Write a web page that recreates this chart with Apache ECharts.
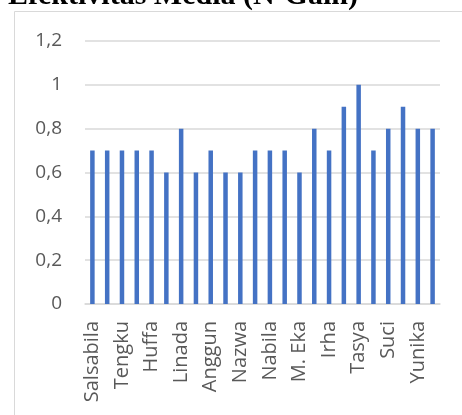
<!DOCTYPE html>
<html>
<head>
<meta charset="utf-8">
<script src="https://cdn.jsdelivr.net/npm/echarts@6/dist/echarts.min.js"></script>
<style>
  html, body { margin: 0; padding: 0; background: #fff; }
  #chart { width: 462px; height: 415px; }
</style>
</head>
<body>
<div id="chart"></div>
<script>
// Student names (only every second one is printed on the axis)
const categories = [
  'Salsabila', '', 'Tengku', '', 'Huffa', '', 'Linada', '',
  'Anggun', '', 'Nazwa', '', 'Nabila', '', 'M. Eka', '',
  'Irha', '', 'Tasya', '', 'Suci', '', 'Yunika', ''
];
// N-Gain score per student
const nGain = [
  0.7, 0.7, 0.7, 0.7, 0.7, 0.6, 0.8, 0.6,
  0.7, 0.6, 0.6, 0.7, 0.7, 0.7, 0.6, 0.8,
  0.7, 0.9, 1.0, 0.7, 0.8, 0.9, 0.8, 0.8
];
const titleText = 'Efektivitas Media (N-Gain)';

const chart = echarts.init(document.getElementById('chart'));
chart.setOption({
  animation: false,
  backgroundColor: '#ffffff',
  graphic: [
    {
      type: 'rect',
      shape: { x: 14.5, y: 11.5, width: 470, height: 420 },
      style: { fill: 'none', stroke: '#d9d9d9', lineWidth: 1 },
      silent: true
    },
    {
      type: 'text',
      x: 8, y: 11,
      style: {
        text: titleText,
        font: 'bold 30px "Liberation Serif", "DejaVu Serif", serif',
        fill: '#000000',
        verticalAlign: 'bottom'
      },
      silent: true
    }
  ],
  grid: { left: 85, right: 22, top: 41, bottom: 111, containLabel: false },
  xAxis: {
    type: 'category',
    data: categories,
    axisTick: { show: false },
    axisLine: { lineStyle: { color: '#d9d9d9', width: 1.5 } },
    axisLabel: {
      interval: 0,
      rotate: 90,
      margin: 17,
      color: '#595959',
      fontFamily: '"Open Sans", sans-serif',
      fontSize: 20
    }
  },
  yAxis: {
    type: 'value',
    min: 0, max: 1.2, interval: 0.2,
    axisLine: { show: false },
    axisTick: { show: false },
    splitLine: { lineStyle: { color: '#d9d9d9', width: 1.5 } },
    axisLabel: {
      margin: 23,
      color: '#595959',
      fontFamily: '"Open Sans", sans-serif',
      fontSize: 19,
      formatter: v => String(Math.round(v * 10) / 10).replace('.', ',')
    }
  },
  series: [{
    type: 'bar',
    data: nGain,
    barWidth: 4.5,
    itemStyle: { color: '#4472C4' }
  }]
});
</script>
</body>
</html>
